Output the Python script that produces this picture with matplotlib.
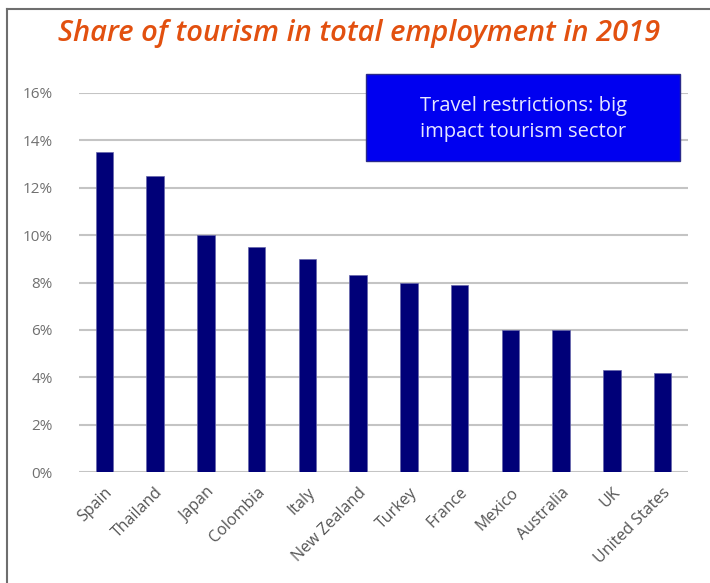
import matplotlib
matplotlib.use("Agg")
import matplotlib.pyplot as plt
from matplotlib.patches import Rectangle
from matplotlib.lines import Line2D

countries = ["Spain", "Thailand", "Japan", "Colombia", "Italy", "New Zealand",
             "Turkey", "France", "Mexico", "Australia", "UK", "United States"]
shares = [13.5, 12.5, 10.0, 9.5, 9.0, 8.3, 8.0, 7.9, 6.0, 6.0, 4.3, 4.2]
yticks = [0, 2, 4, 6, 8, 10, 12, 14, 16]
ytick_labels = ["0%", "2%", "4%", "6%", "8%", "10%", "12%", "14%", "16%"]
title = "Share of tourism in total employment in 2019"
box_text = "Travel restrictions: big\nimpact tourism sector"

W, H = 710, 583
fig = plt.figure(figsize=(W / 100, H / 100), dpi=100)
fig.patch.set_facecolor("white")

# outer frame (top and left lines)
fig.add_artist(Line2D([7 / W, 7 / W], [0, 1 - 9 / H], color="#6e6e6e", lw=1.5, transform=fig.transFigure))
fig.add_artist(Line2D([7 / W, 1], [1 - 9 / H, 1 - 9 / H], color="#6e6e6e", lw=1.5, transform=fig.transFigure))

ax = fig.add_axes([79 / W, 1 - 472 / H, (688 - 79) / W, (472 - 93) / H])
x = list(range(len(countries)))
ax.bar(x, shares, width=0.34, color="#000078", edgecolor="#6666aa", linewidth=0.5, zorder=3)
ax.set_xlim(-0.5, len(countries) - 0.5)
ax.set_ylim(0, 16)
ax.set_yticks(yticks)
ax.set_yticklabels(ytick_labels, fontsize=11, color="#707070", family="Open Sans")
ax.set_xticks(x)
ax.set_xticklabels(countries, rotation=45, ha="right", rotation_mode="anchor",
                   fontsize=11.5, color="#555555", family="Open Sans")
ax.tick_params(axis="both", length=0)
ax.tick_params(axis="y", pad=19)
ax.tick_params(axis="x", pad=9)
ax.yaxis.grid(True, color="#c4c4c4", lw=1.5, zorder=0)
for s in ax.spines.values():
    s.set_visible(False)
ax.set_axisbelow(True)

fig.text(359 / W, 1 - 34 / H, title, ha="center", va="center", fontsize=21,
         color="#e2500f", style="italic", weight="semibold", family="Open Sans")

# blue info box
bx0, by0, bx1, by1 = 366, 74, 680, 161
fig.add_artist(Rectangle((bx0 / W, 1 - by1 / H), (bx1 - bx0) / W, (by1 - by0) / H,
                         facecolor="#0000f0", edgecolor="#2a2a8a", lw=1,
                         transform=fig.transFigure, zorder=5))
fig.text((bx0 + bx1) / 2 / W, 1 - 119 / H, box_text, ha="center", va="center",
         fontsize=14.5, color="#e6e6ff", family="Open Sans", zorder=6, linespacing=1.45)

fig.savefig("out.png", dpi=100)
